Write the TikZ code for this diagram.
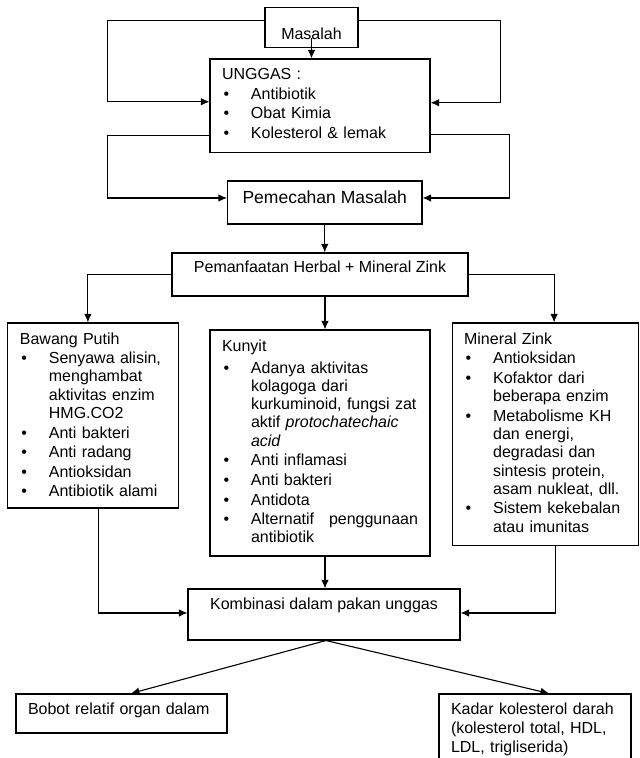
\documentclass[tikz,border=0pt]{standalone}
\usepackage{fontspec}
\setmainfont{Liberation Sans}
\usetikzlibrary{positioning,arrows.meta,calc}
\newcommand{\bul}[1]{\par\vspace{1.3pt}\noindent\hangindent=29pt\hangafter=1\makebox[29pt][l]{\hspace{1.5pt}\textbullet}#1}
\newcommand{\dep}[1]{\rule[-#1]{0pt}{#1}\par}
\tikzstyle{tbox}=[rectangle, draw=black, line width=1.1pt, inner xsep=12pt, inner ysep=9.5pt,
                  font=\fontsize{16}{18.3}\selectfont]
\tikzstyle{lbox}=[tbox, align=left]
\tikzstyle{sbox}=[tbox, inner ysep=0pt]
\tikzstyle{pline}=[-, line width=1.1pt]
\tikzstyle{parrow}=[pline, -{Latex[length=8.5pt,width=7.5pt]}]
\begin{document}
\begin{tikzpicture}[x=1pt, y=1pt]
\useasboundingbox (0,0) rectangle (640,-758);

\node (MSL) [sbox, minimum width=93pt, text height=31.5pt, text depth=8pt, anchor=north] at (311.5,-7) {Masalah};
\node (UNG) [lbox, text width=196pt, below=10.85pt of MSL, xshift=8.5pt] {UNGGAS :
\bul{Antibiotik}
\bul{Obat Kimia}
\bul{Kolesterol \& lemak\dep{4.5pt}}};
 \draw[parrow] ([yshift=6.5pt]MSL.west) -- ++(-157pt,0) |- ([yshift=4pt]UNG.west);
 \draw[parrow] ([yshift=6.5pt]MSL.east) -- ++(142pt,0) |- ([yshift=3pt]UNG.east);
 \draw[parrow] ([yshift=10pt]MSL.south) -- (MSL.south |- UNG.north);
\node (PMC) [sbox, font=\fontsize{17.5}{21}\selectfont, minimum width=194.5pt, text height=23pt, text depth=20pt,
 below=27.4pt of UNG, xshift=4.75pt] {Pemecahan Masalah};
 \draw[parrow] ([yshift=-30pt]UNG.west) -- ++(-102pt,0) |- ([yshift=4.5pt]PMC.west);
 \draw[parrow] ([yshift=-29pt]UNG.east) -- ++(79pt,0) |- ([yshift=4.5pt]PMC.east);
\node (PMF) [sbox, minimum width=296pt, text height=20pt, text depth=23pt, below=27.9pt of PMC, xshift=-4.75pt] {Pemanfaatan Herbal + Mineral Zink};
 \draw[parrow] (PMC.south) -- (PMC.south |- PMF.north);
\node (KUN) [lbox, text width=196pt, below=32.9pt of PMF] {Kunyit\par\vspace{2.4pt}
\bul{Adanya aktivitas\newline kolagoga dari\newline kurkuminoid, fungsi zat\newline aktif \textit{protochatechaic}\newline \textit{acid}}
\bul{Anti inflamasi}
\bul{Anti bakteri}
\bul{Antidota}
\bul{Alternatif\hfill penggunaan\newline antibiotik\dep{3.5pt}}};
 \draw[parrow] ([xshift=5pt]PMF.south) -- ([xshift=5pt]KUN.north);
\node (BWP) [lbox, text width=147pt, left=30pt of KUN.north west, anchor=north east, yshift=7pt] {Bawang Putih
\bul{Senyawa alisin,\newline menghambat\newline aktivitas enzim\newline HMG.CO2}
\bul{Anti bakteri}
\bul{Anti radang}
\bul{Antioksidan}
\bul{Antibiotik alami\dep{1.5pt}}};
 \draw[parrow] (PMF.west) -| ([xshift=-5.5pt]BWP.north);
\node (MZK) [lbox, text width=162pt, right=21pt of KUN.north east, anchor=north west, yshift=7pt] {Mineral Zink
\bul{Antioksidan}
\bul{Kofaktor dari\newline beberapa enzim}
\bul{Metabolisme KH\newline dan energi,\newline degradasi dan\newline sintesis protein,\newline asam nukleat, dll.}
\bul{Sistem kekebalan\newline atau imunitas\dep{3.5pt}}};
 \draw[parrow] (PMF.east) -| ([xshift=9pt]MZK.north);
\node (KMB) [sbox, minimum width=272pt, text height=21pt, text depth=30pt, below=31.9pt of KUN, xshift=4pt] {Kombinasi dalam pakan unggas};
 \draw[parrow] ([xshift=5.5pt]BWP.south) |- ([yshift=1.5pt]KMB.west);
 \draw[parrow] ([xshift=10pt]MZK.south) |- ([yshift=1.5pt]KMB.east);
 \draw[parrow] ([xshift=5pt]KUN.south) -- ([xshift=5pt]KUN.south |- KMB.north);
\node (BBT) [sbox, align=left, text width=187pt, text height=21pt, text depth=18pt, below=52.9pt of KMB, xshift=-202.5pt] {Bobot relatif organ dalam};
\node (KDR) [lbox, font=\fontsize{16}{19}\selectfont, inner ysep=8.5pt, text width=168pt, below=52.9pt of KMB, xshift=211pt] {Kadar kolesterol darah\newline (kolesterol total, HDL,\newline LDL, trigliserida)};
 \draw[parrow] ([xshift=2pt]KMB.south) -- ([xshift=9.5pt]BBT.north);
 \draw[parrow] ([xshift=2pt]KMB.south) -- ([xshift=14pt]KDR.north);

\end{tikzpicture}
\end{document}
